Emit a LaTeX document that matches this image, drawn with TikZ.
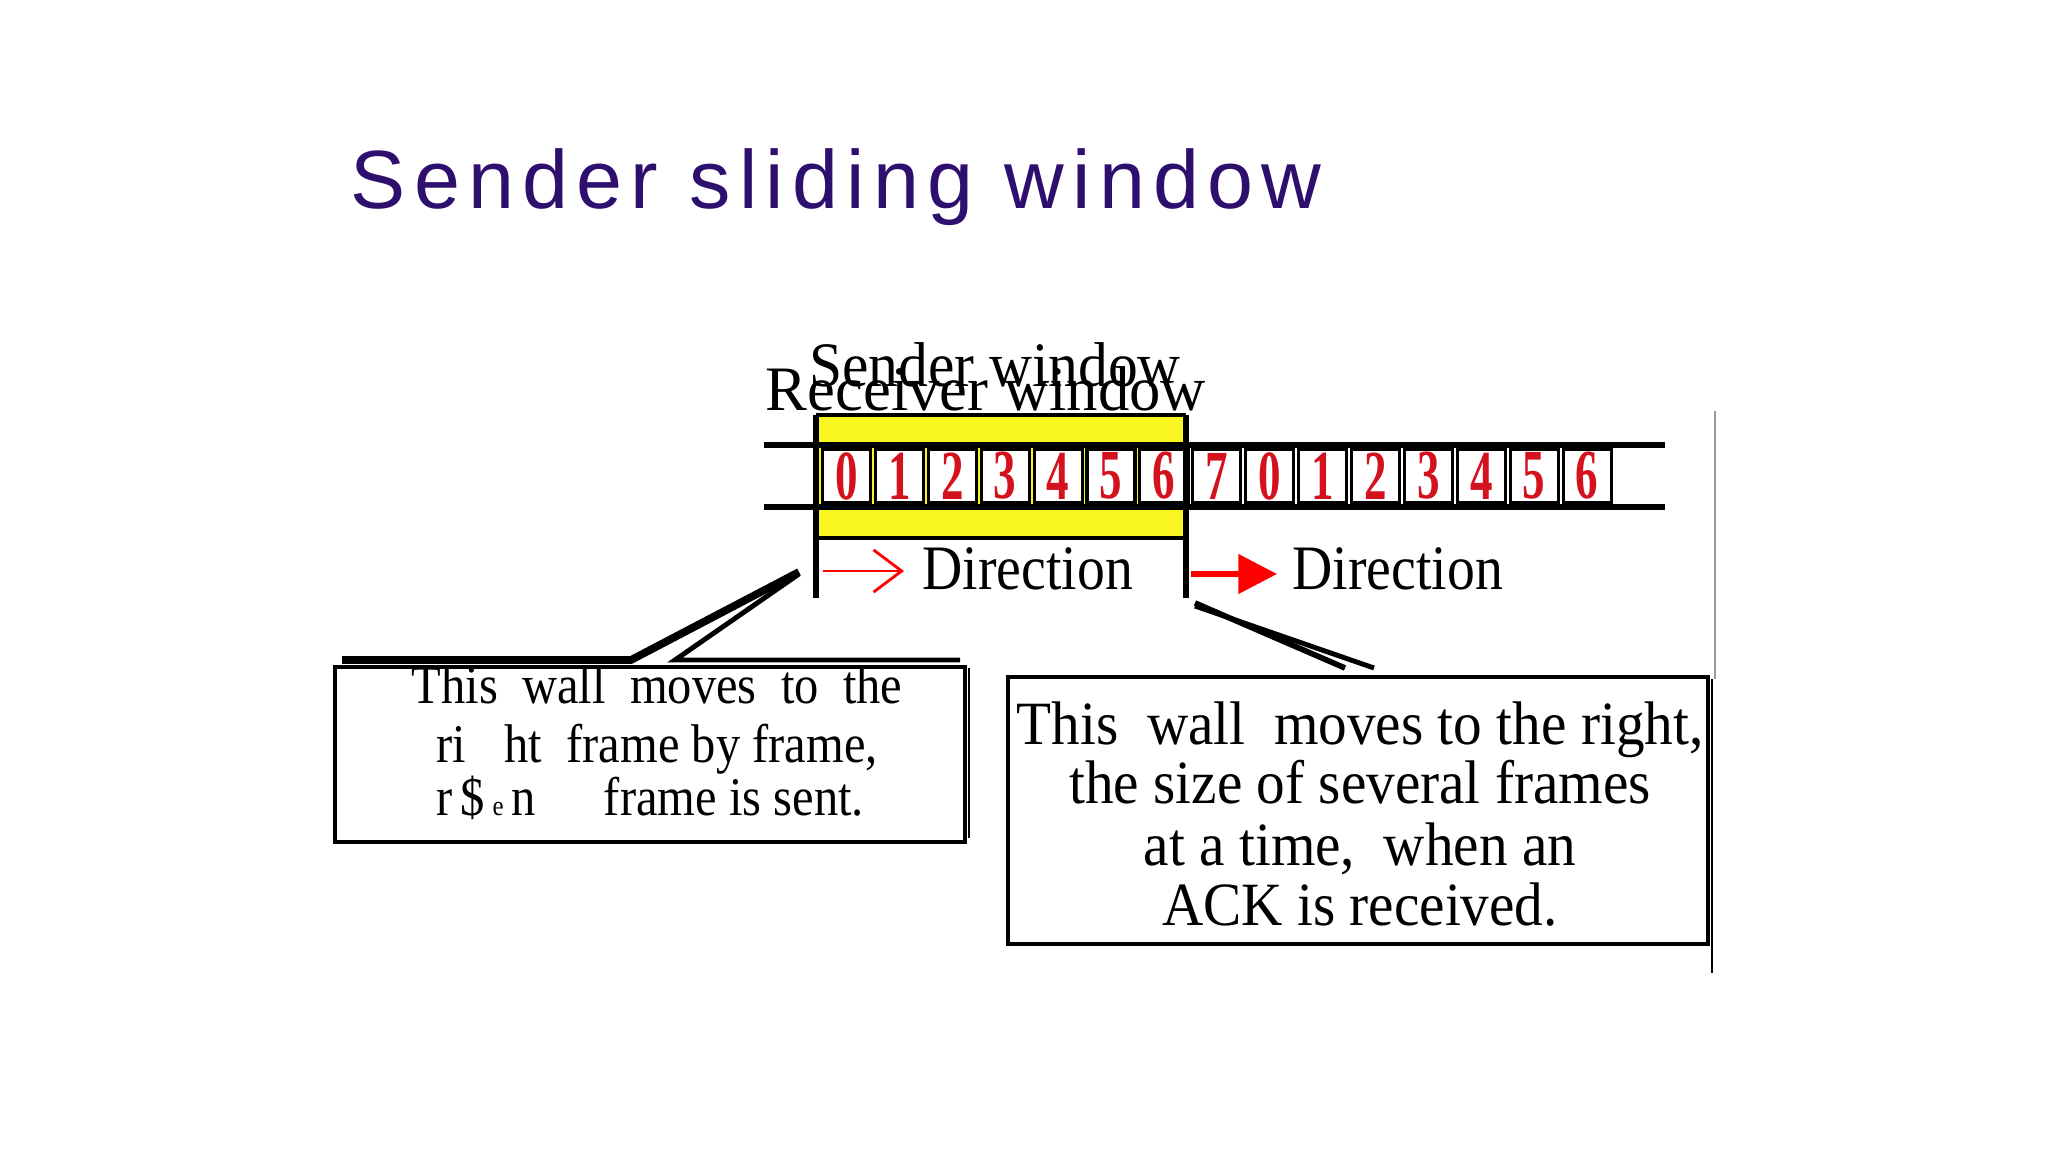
\documentclass[tikz,border=0pt]{standalone}
\usepackage{fontspec}
\setmainfont{Liberation Serif}
\newfontfamily\titlefont[LetterSpace=10]{Liberation Sans}
\usetikzlibrary{arrows.meta}
\definecolor{ttl}{HTML}{2E0F6E}
\definecolor{dig}{HTML}{D4121E}
\definecolor{yel}{HTML}{F8F520}
\tikzset{
 wall/.style={line width=1.6pt},
 cellbox/.style={draw, line width=0.9pt, minimum width=0.48cm, minimum height=0.54cm, inner sep=0pt, fill=white},
 digit/.style={text=dig, font=\fontsize{16}{16}\selectfont\bfseries},
 lbl/.style={font=\fontsize{18}{18}\selectfont, inner sep=0pt},
 callout/.style={draw, line width=1pt, fill=white},
 ptr/.style={line width=1.6pt}
}
\begin{document}
\begin{tikzpicture}[x=0.01cm,y=-0.01cm]
\useasboundingbox (0,0) rectangle (2048,1152);
\fill[white] (0,0) rectangle (2048,1152);
\node[anchor=base west, text=ttl, font=\titlefont\fontsize{23.5}{28}\selectfont, inner sep=0pt] (title) at (350,209) {Sender sliding window};
% yellow window
\fill[yel] (816,415) rectangle (1186,538);
\draw[line width=1.2pt] (816,415) -- (1186,415);
\draw[line width=1.2pt] (816,538) -- (1186,538);
% strip lines
\draw[line width=1.8pt] (764,445) -- (1665,445);
\draw[line width=1.8pt] (764,507) -- (1665,507);
\foreach \d [count=\i from 0] in {0,1,2,3,4,5,6,7,0,1,2,3,4,5,6}{
  \node[cellbox] (c\i) at ({820+26.5+52.9*\i},476) {};
  \node[digit] at (c\i) {\scalebox{0.8}[1.25]{\d}};
}
% walls
\draw[wall] (816,415) -- (816,598);
\draw[wall] (1186,415) -- (1186,598);
\node[lbl, anchor=base] (sw) at (995,387) {\scalebox{0.94}[1]{Sender window}};
\node[lbl, anchor=base] (rw) at (986,411) {\scalebox{0.99}[1]{Receiver window}};
% direction arrows
\coordinate (a1s) at (823,571); \coordinate (a1e) at (904,571);
\draw[red, line width=0.8pt, -{Straight Barb[length=8pt,width=12pt]}] (a1s) -- (a1e);
\node[lbl, anchor=base west] (d1) at (922,590) {\scalebox{0.88}[1]{Direction}};
\coordinate (a2s) at (1191,574); \coordinate (a2e) at (1277,574);
\draw[red, line width=1.6pt, -{Triangle[length=11pt,width=11pt]}] (a2s) -- (a2e);
\node[lbl, anchor=base west] (d2) at (1292,590) {\scalebox{0.88}[1]{Direction}};
% left callout
\draw[line width=2.2pt] (342,660) -- (631,660) -- (799,572);
\draw[line width=1.4pt] (799,574) -- (675,660) -- (960,660);
\draw[line width=0.7pt] (969,668) -- (969,838);
\node[callout, minimum width=6.3cm, minimum height=1.75cm, anchor=north west] (lb) at (333,665) {};
\node[anchor=base, font=\fontsize{15.5}{15.5}\selectfont, inner sep=0pt] at (657,703) {\scalebox{0.89}[1]{This\ \ wall\ \ moves\ \ to\ \ the}};
\node[anchor=base, font=\fontsize{15.5}{15.5}\selectfont, inner sep=0pt] at (657,762) {\scalebox{0.89}[1]{ri\hspace{0.8em}ht\ \ frame\ by\ frame,}};
\node[anchor=base, font=\fontsize{15.5}{15.5}\selectfont, inner sep=0pt] at (650,815) {\scalebox{0.89}[1]{r\,\$\,{\footnotesize e}\,n\hspace{1.4em}frame is sent.}};
% right callout
\draw[ptr] (1195,603) -- (1345,668);
\draw[line width=1.4pt] (1195,606) -- (1374,668);
\draw[line width=0.6pt, black!40] (1715,411) -- (1715,679);
\draw[line width=0.8pt] (1712,679) -- (1712,973);
\node[callout, minimum width=7cm, minimum height=2.67cm, anchor=north west] (rb) at (1006,675) {};
\node[anchor=base, font=\fontsize{17.5}{17.5}\selectfont, inner sep=0pt] at (1360,744) {\scalebox{0.93}[1]{This\ \ wall\ \ moves\ to the right,}};
\node[anchor=base, font=\fontsize{17.5}{17.5}\selectfont, inner sep=0pt] at (1360,803) {\scalebox{0.93}[1]{the size of several frames}};
\node[anchor=base, font=\fontsize{17.5}{17.5}\selectfont, inner sep=0pt] at (1360,865) {\scalebox{0.93}[1]{at a time,\ \ when an}};
\node[anchor=base, font=\fontsize{17.5}{17.5}\selectfont, inner sep=0pt] at (1360,925) {\scalebox{0.93}[1]{ACK is received.}};
\end{tikzpicture}
\end{document}
